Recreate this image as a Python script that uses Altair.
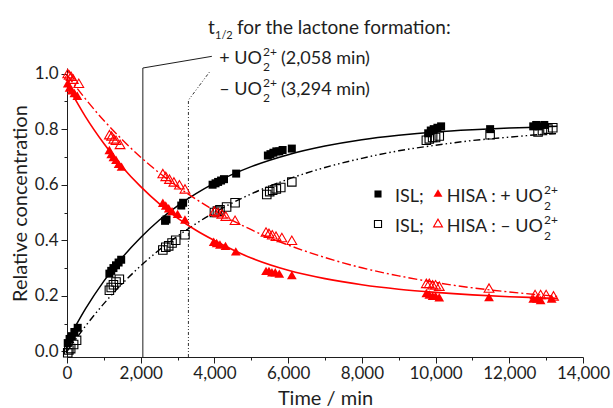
import altair as alt
import pandas as pd

FONT = "Lato"
INK = "#1e1e1e"
RED = "#ff0000"

# ---- measured relative concentrations (time / min) ----
# ISL with UO2(2+)
isl_plus_t = [20, 70, 130, 200, 290, 1150, 1200, 1260, 1330, 1400, 1470, 2660, 2700, 3100, 3150,
              3950, 4030, 4100, 4180, 4260, 4590, 5450, 5520, 5600, 5680, 5760, 5850, 6100,
              9800, 9870, 9950, 10050, 10150, 11480, 12650, 12730, 12800, 12950]
isl_plus_c = [0.03, 0.045, 0.055, 0.07, 0.085, 0.28, 0.29, 0.30, 0.31, 0.32, 0.33, 0.47, 0.475, 0.525, 0.535,
              0.60, 0.605, 0.61, 0.615, 0.62, 0.64, 0.705, 0.71, 0.715, 0.72, 0.72, 0.725, 0.73,
              0.785, 0.795, 0.80, 0.805, 0.81, 0.80, 0.81, 0.815, 0.81, 0.815]

# ISL without UO2(2+)
isl_minus_t = [20, 50, 100, 180, 260, 1150, 1200, 1260, 1330, 1420, 2600, 2680, 2760, 2850, 2950, 3200,
               4000, 4080, 4150, 4330, 4560, 5420, 5500, 5580, 5680, 5800, 6100,
               9750, 9830, 9920, 10000, 10100, 11480, 12780, 12900, 13050, 13180]
isl_minus_c = [-0.005, 0.005, 0.01, 0.025, 0.04, 0.22, 0.23, 0.24, 0.25, 0.26, 0.365, 0.375, 0.38, 0.39, 0.40, 0.42,
               0.50, 0.505, 0.51, 0.52, 0.535, 0.565, 0.575, 0.58, 0.585, 0.59, 0.61,
               0.76, 0.765, 0.77, 0.77, 0.775, 0.78, 0.79, 0.795, 0.80, 0.805]

# HISA with UO2(2+)
hisa_plus_t = [20, 70, 130, 200, 280, 1150, 1200, 1260, 1330, 1400, 1480, 2600, 2680, 2760, 2850, 3000, 3200,
               3980, 4060, 4150, 4300, 4580, 5400, 5480, 5560, 5650, 5760, 6100,
               9750, 9830, 9920, 10000, 10100, 11450, 12650, 12750, 12850, 13150]
hisa_plus_c = [0.965, 0.95, 0.94, 0.93, 0.92, 0.725, 0.71, 0.70, 0.69, 0.675, 0.665, 0.535, 0.525, 0.515, 0.505, 0.495, 0.475,
               0.395, 0.39, 0.385, 0.38, 0.36, 0.29, 0.29, 0.285, 0.285, 0.28, 0.275,
               0.21, 0.205, 0.20, 0.20, 0.195, 0.196, 0.19, 0.19, 0.185, 0.19]

# HISA without UO2(2+)
hisa_minus_t = [20, 60, 110, 170, 320, 1150, 1210, 1270, 1330, 1440, 2600, 2680, 2780, 2900, 3050, 3200,
                4000, 4100, 4200, 4310, 4560, 5400, 5480, 5570, 5670, 5830, 6100,
                9750, 9830, 9920, 10000, 10100, 11450, 12700, 12850, 13000, 13200]
hisa_minus_c = [1.0, 0.995, 0.99, 0.98, 0.965, 0.78, 0.775, 0.765, 0.76, 0.745, 0.64, 0.63, 0.62, 0.61, 0.60, 0.585,
                0.505, 0.50, 0.495, 0.487, 0.472, 0.43, 0.425, 0.42, 0.415, 0.41, 0.40,
                0.245, 0.245, 0.24, 0.24, 0.235, 0.228, 0.205, 0.205, 0.205, 0.20]

# ---- fitted kinetic curves ----
fit_t = [0, 500, 1000, 1500, 2000, 2500, 3000, 3500, 4000, 5000, 6000, 7000, 8000, 9000,
         10000, 11000, 12000, 13000, 13300]
fit_isl_plus = [0.035, 0.153, 0.253, 0.338, 0.410, 0.472, 0.524, 0.568, 0.606, 0.665, 0.708, 0.739, 0.762, 0.778,
                0.790, 0.798, 0.804, 0.8085, 0.810]
fit_isl_minus = [0.0, 0.091, 0.172, 0.244, 0.308, 0.365, 0.415, 0.460, 0.500, 0.567, 0.620, 0.662, 0.695, 0.722,
                 0.742, 0.759, 0.771, 0.782, 0.784]
fit_hisa_plus = [0.96, 0.845, 0.748, 0.664, 0.593, 0.532, 0.480, 0.436, 0.399, 0.336, 0.292, 0.262, 0.240, 0.224,
                 0.2125, 0.2036, 0.197, 0.1925, 0.191]
fit_hisa_minus = [0.995, 0.909, 0.831, 0.762, 0.699, 0.643, 0.593, 0.548, 0.507, 0.438, 0.383, 0.338, 0.301, 0.272,
                  0.248, 0.229, 0.214, 0.2016, 0.198]

# half-lives of lactone formation (min)
t_half_plus = 2058
t_half_minus = 3294

x_ticks = list(range(0, 14001, 1000))
y_ticks = [round(i * 0.1, 1) for i in range(11)]

x_scale = alt.Scale(domain=[0, 14000], nice=False, zero=False)
y_scale = alt.Scale(domain=[-0.02, 1.02], nice=False, zero=False)

common_axis = dict(grid=False, domainColor=INK, domainWidth=1, tickColor=INK, tickWidth=1,
                   labelColor=INK, labelFont=FONT, labelFontSize=17, labelOverlap=False, labelFlush=False,
                   titleFont=FONT, titleFontSize=20, titleFontWeight="normal", titleColor=INK)

x_axis = alt.Axis(values=x_ticks,
                  labelExpr="datum.value % 2000 === 0 ? format(datum.value, ',') : ''",
                  tickSize={"condition": {"test": "datum.value % 2000 !== 0", "value": 3}, "value": 6},
                  labelPadding=2, titleY=47, titleBaseline="alphabetic", **common_axis)
y_axis = alt.Axis(values=y_ticks,
                  labelExpr="round(datum.value * 10) % 2 === 0 ? format(datum.value, '.1f') : ''",
                  tickSize={"condition": {"test": "round(datum.value * 10) % 2 !== 0", "value": 3}, "value": 6},
                  labelPadding=3, titleX=-41, titleY=135, titleBaseline="alphabetic", **common_axis)

x_enc = alt.X("t:Q", scale=x_scale, axis=x_axis, title="Time / min")
y_enc = alt.Y("c:Q", scale=y_scale, axis=y_axis, title="Relative concentration")


def frame(t, c):
    return pd.DataFrame({"t": t, "c": c})


def curve(values, color, width, dash=None):
    style = dict(color=color, strokeWidth=width, interpolate="monotone")
    if dash:
        style["strokeDash"] = dash
    return alt.Chart(frame(fit_t, values)).mark_line(**style).encode(x=x_enc, y=y_enc)


def points(t, c, shape, color, filled, size):
    return alt.Chart(frame(t, c)).mark_point(
        shape=shape, filled=filled, color=color, size=size, opacity=1, strokeWidth=1.1
    ).encode(x=x_enc, y=y_enc)


one = pd.DataFrame({"k": [0]})


def label(text, x, y, size=18, align="left"):
    return alt.Chart(one).mark_text(
        text=text, align=align, baseline="alphabetic", font=FONT, fontSize=size, color=INK
    ).encode(x=alt.value(x), y=alt.value(y))


def glyph(shape, color, filled, size, x, y):
    return alt.Chart(one).mark_point(
        shape=shape, filled=filled, color=color, size=size, opacity=1, strokeWidth=1.1
    ).encode(x=alt.value(x), y=alt.value(y))


# leader lines from the half-life markers to their labels
lead_plus = pd.DataFrame({"t": [t_half_plus, t_half_plus, 3930], "c": [-0.02, 1.02, 1.062], "i": [0, 1, 2]})
lead_minus = pd.DataFrame({"t": [t_half_minus, t_half_minus, 3880], "c": [-0.02, 0.904, 1.008], "i": [0, 1, 2]})

leaders = [
    alt.Chart(lead_plus).mark_line(color=INK, strokeWidth=1).encode(
        x=x_enc, y=y_enc, order=alt.Order("i:Q")),
    alt.Chart(lead_minus).mark_line(color="#333333", strokeWidth=1, strokeDash=[3, 2, 1, 2, 1, 2]).encode(
        x=x_enc, y=y_enc, order=alt.Order("i:Q")),
]

curves = [
    curve(fit_isl_plus, "#000000", 1.5),
    curve(fit_isl_minus, "#000000", 1.4, [7, 3, 1.5, 3, 1.5, 3]),
    curve(fit_hisa_plus, RED, 1.6),
    curve(fit_hisa_minus, RED, 1.4, [9, 3, 2, 3]),
]

marks = [
    points(isl_plus_t, isl_plus_c, "square", "#000000", True, 64),
    points(isl_minus_t, isl_minus_c, "square", "#000000", False, 72),
    points(hisa_plus_t, hisa_plus_c, "triangle-up", RED, True, 95),
    points(hisa_minus_t, hisa_minus_c, "triangle-up", RED, False, 95),
]

# legend rows
legend = [
    glyph("square", "#000000", True, 50, 311, 126),
    label("ISL;", 328, 134),
    glyph("triangle-up", RED, True, 80, 371, 125),
    label("HISA : + UO", 476, 134, align="right"),
    label("2+", 477, 126, size=12),
    label("2", 477, 142, size=12),
    glyph("square", "#000000", False, 50, 311, 156),
    label("ISL;", 328, 164),
    glyph("triangle-up", RED, False, 80, 371, 155),
    label("HISA : \u2013 UO", 476, 164, align="right"),
    label("2+", 477, 156, size=12),
    label("2", 477, 172, size=12),
]

# half-life annotation
notes = [
    label("t", 141, -34, size=19),
    label("1/2", 148, -29, size=11),
    label("for the lactone formation:", 170, -34, size=19),
    label("+ UO", 195, -4, align="right"),
    label("2+", 196, -12, size=12),
    label("2", 196, 3, size=12),
    label("(2,058 min)", 214, -4),
    label("\u2013 UO", 195, 27, align="right"),
    label("2+", 196, 19, size=12),
    label("2", 196, 34, size=12),
    label("(3,294 min)", 214, 27),
]

chart = alt.layer(*leaders, *curves, *marks, *legend, *notes).properties(
    width=516,
    height=289,
    autosize=alt.AutoSizeParams(type="none"),
    padding={"left": 67, "top": 68, "right": 30, "bottom": 51},
).configure_view(stroke=None)

chart.save("out.html", embed_options={"renderer": "svg", "actions": False})
